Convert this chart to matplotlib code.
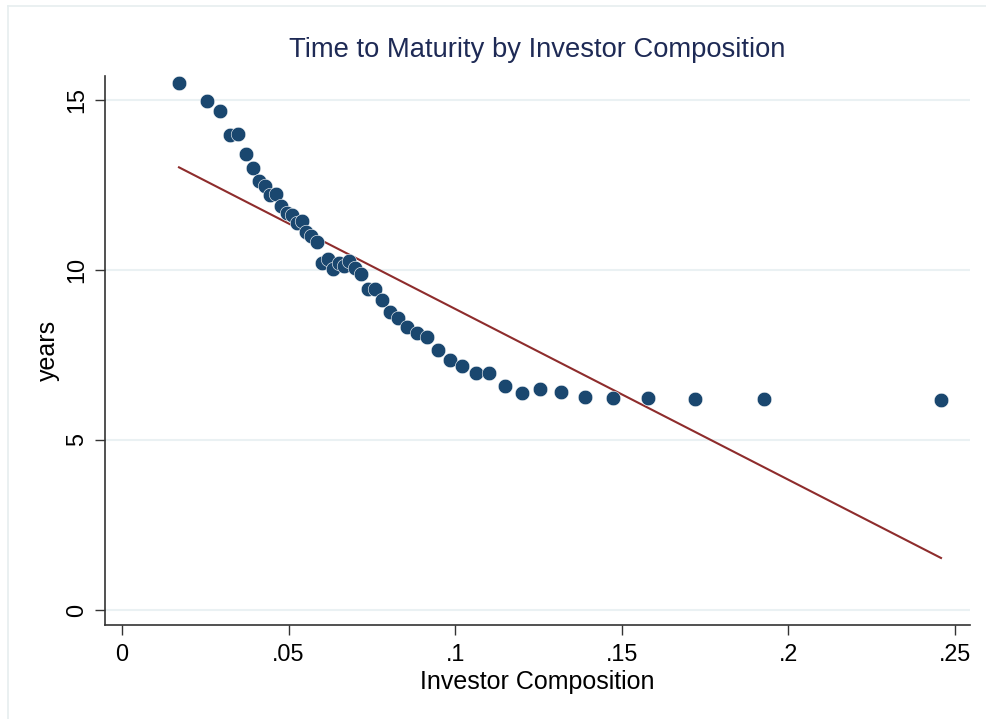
import matplotlib
matplotlib.use("Agg")
import matplotlib.pyplot as plt
from matplotlib.lines import Line2D

plt.rcParams['font.family'] = ['Liberation Sans', 'DejaVu Sans']

investor_comp = [0.0171, 0.0255, 0.0294, 0.0324, 0.0348, 0.0372, 0.0393, 0.0411, 0.0429, 0.0444,
                 0.0462, 0.0477, 0.0495, 0.0510, 0.0525, 0.0540, 0.0552, 0.0567, 0.0585, 0.0600,
                 0.0618, 0.0633, 0.0651, 0.0666, 0.0681, 0.0699, 0.0717, 0.0738, 0.0759, 0.0780,
                 0.0804, 0.0828, 0.0855, 0.0885, 0.0915, 0.0948, 0.0984, 0.1020, 0.1062, 0.1101,
                 0.1150, 0.1200, 0.1254, 0.1317, 0.1390, 0.1474, 0.1579, 0.1720, 0.1927, 0.2458]
years = [15.50, 14.97, 14.68, 13.97, 14.00, 13.41, 13.00, 12.62, 12.47, 12.20,
         12.24, 11.88, 11.68, 11.62, 11.38, 11.44, 11.12, 11.00, 10.82, 10.20,
         10.32, 10.03, 10.20, 10.12, 10.26, 10.06, 9.88, 9.44, 9.44, 9.12,
         8.76, 8.59, 8.32, 8.15, 8.03, 7.65, 7.35, 7.18, 6.97, 6.97,
         6.59, 6.38, 6.50, 6.41, 6.26, 6.24, 6.24, 6.20, 6.20, 6.18]
fit_x = [0.0171, 0.2458]
fit_y = [13.02, 1.53]

xticks = [0, 0.05, 0.1, 0.15, 0.2, 0.25]
xticklabels = ['0', '.05', '.1', '.15', '.2', '.25']
yticks = [0, 5, 10, 15]
yticklabels = ['0', '5', '10', '15']

W, H = 987, 719
fig = plt.figure(figsize=(W/100, H/100), dpi=100)
fig.patch.set_facecolor('white')

# outer frame lines (light)
fig.add_artist(Line2D([8/W, 8/W], [0, 1 - 6/H], transform=fig.transFigure, color='#E6EEEF', lw=1.2))
fig.add_artist(Line2D([8/W, 1], [1 - 6/H, 1 - 6/H], transform=fig.transFigure, color='#E6EEEF', lw=1.2))

left, right, top, bottom = 105, 970, 76, 625
ax = fig.add_axes([left/W, 1 - bottom/H, (right-left)/W, (bottom-top)/H])

ax.set_xlim(-17/3332, (970-122)/3332)
ax.set_ylim(-15/34, (610-76)/34)

for yv in yticks:
    ax.axhline(yv, color='#EAF1F3', lw=1.5, zorder=0)

ax.plot(fit_x, fit_y, color='#8E2C2C', lw=1.5, zorder=2)
ax.scatter(investor_comp, years, s=110, color='#1A476F', edgecolors='white', linewidths=0.4, zorder=3)

ax.spines['top'].set_visible(False)
ax.spines['right'].set_visible(False)
for s in ['left', 'bottom']:
    ax.spines[s].set_color('#333333')
    ax.spines[s].set_linewidth(1.2)

ax.set_xticks(xticks)
ax.set_xticklabels(xticklabels)
ax.set_yticks(yticks)
ax.set_yticklabels(yticklabels, rotation=90, va='center')
ax.tick_params(axis='both', direction='out', length=7, width=1, color='#333333',
               labelsize=16.8, labelcolor='black')
ax.tick_params(axis='x', pad=6)
ax.tick_params(axis='y', pad=5)

ax.set_xlabel('Investor Composition', fontsize=18, labelpad=3)
ax.set_ylabel('years', fontsize=18, labelpad=4)
ax.set_title('Time to Maturity by Investor Composition', fontsize=19.7, color='#1E2A55', pad=14)

fig.savefig('out.png', dpi=100, facecolor='white')
